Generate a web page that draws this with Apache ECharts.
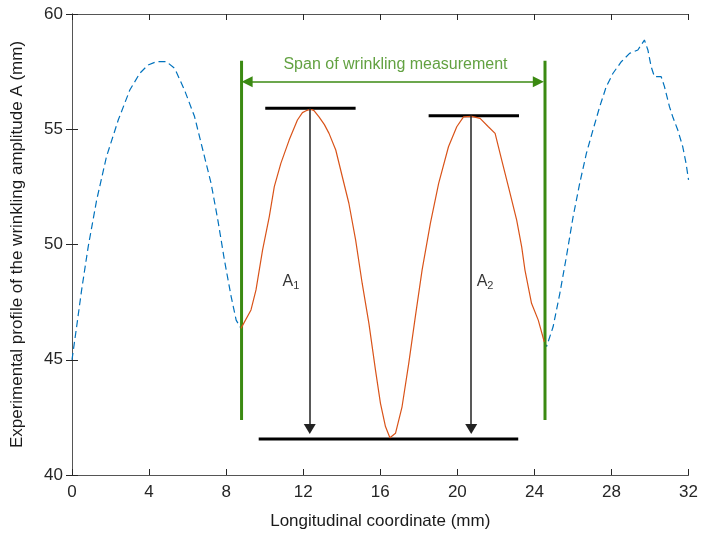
<!DOCTYPE html>
<html>
<head>
<meta charset="utf-8">
<script src="https://cdn.jsdelivr.net/npm/echarts@6/dist/echarts.min.js"></script>
<style>html,body{margin:0;padding:0;background:#fff;}#c{width:701px;height:535px;}</style>
</head>
<body>
<div id="c"></div>
<script>
// ---- data ----
const xTicks = [0, 4, 8, 12, 16, 20, 24, 28, 32];
const yTicks = [40, 45, 50, 55, 60];

const blueLeftX = [0.00, 0.24, 0.50, 0.84, 1.28, 1.79, 2.40, 3.00, 3.52, 3.95, 4.38, 4.90, 5.33, 5.84, 6.36, 6.79, 7.22, 7.57, 7.91, 8.26, 8.52, 8.77];
const blueLeftY = [45.0, 46.43, 48.03, 49.90, 51.93, 53.81, 55.40, 56.70, 57.43, 57.79, 57.93, 57.93, 57.64, 56.70, 55.55, 54.10, 52.65, 51.06, 49.33, 47.74, 46.72, 46.36];

const orangeX = [8.77, 9.29, 9.55, 9.89, 10.24, 10.50, 10.84, 11.27, 11.70, 11.96, 12.15, 12.31, 12.45, 12.56, 12.82, 13.10, 13.34, 13.69, 14.03, 14.37, 14.72, 15.06, 15.41, 15.75, 16.01, 16.27, 16.50, 16.79, 17.13, 17.48, 17.82, 18.17, 18.60, 19.03, 19.54, 19.97, 20.32, 20.75, 21.18, 21.61, 21.96, 22.30, 22.65, 23.08, 23.34, 23.51, 23.85, 24.20, 24.51];
const orangeY = [46.36, 47.16, 48.03, 49.76, 51.21, 52.51, 53.52, 54.53, 55.40, 55.72, 55.80, 55.85, 55.85, 55.81, 55.54, 55.20, 54.82, 54.10, 52.94, 51.79, 50.20, 48.32, 46.58, 44.56, 43.11, 42.10, 41.62, 41.81, 42.96, 44.85, 46.87, 48.89, 50.92, 52.65, 54.24, 55.11, 55.54, 55.56, 55.47, 55.11, 54.82, 53.67, 52.51, 51.06, 49.90, 48.89, 47.45, 46.72, 45.78];

const blueRightX = [24.51, 24.63, 24.97, 25.32, 25.66, 26.01, 26.35, 26.70, 27.04, 27.39, 27.73, 28.08, 28.51, 28.94, 29.37, 29.71, 29.89, 30.06, 30.23, 30.58, 30.75, 31.01, 31.18, 31.44, 31.70, 31.87, 32.00];
const blueRightY = [45.78, 45.57, 46.43, 47.88, 49.47, 51.21, 52.65, 53.96, 54.97, 55.98, 56.85, 57.43, 57.93, 58.29, 58.44, 58.87, 58.44, 57.71, 57.28, 57.28, 56.85, 55.98, 55.54, 54.97, 54.24, 53.52, 52.80];

// annotation geometry (data coordinates)
const spanBarsX = [8.80, 24.55];
const spanBarsY = [42.39, 57.97];
const spanArrowX = [8.83, 24.46];
const spanArrowY = 57.06;
const spanText = 'Span of wrinkling measurement';
const spanTextPos = [16.79, 57.80];

const peakLinesX = [[10.03, 14.72], [18.51, 23.20]];
const peakLevels = [55.91, 55.59];
const troughLineX = [9.69, 23.16];
const troughLevel = 41.56;

const ampArrowX = [12.34, 20.72];
const ampArrowTipY = 41.78;
const ampLabels = ['A{s|1}', 'A{s|2}'];
const ampLabelPos = [[11.36, 48.39], [21.44, 48.39]];

// ---- build ----
const zip = (xs, ys) => xs.map((x, i) => [x, ys[i]]);
const GREEN = '#3b8a12';
const FONT = 'Liberation Sans, Arial, Helvetica, sans-serif';

const segSeries = (pts, color, width) => ({
  type: 'line', data: pts, symbol: 'none', silent: true, animation: false,
  lineStyle: { color: color, width: width }, z: 3
});

const series = [
  { type: 'line', data: zip(blueLeftX, blueLeftY), symbol: 'none', silent: true, animation: false,
    lineStyle: { color: '#0072BD', width: 1.2, type: [7, 4] }, z: 2 },
  { type: 'line', data: zip(blueRightX, blueRightY), symbol: 'none', silent: true, animation: false,
    lineStyle: { color: '#0072BD', width: 1.2, type: [7, 4] }, z: 2 },
  { type: 'line', data: zip(orangeX, orangeY), symbol: 'none', silent: true, animation: false,
    lineStyle: { color: '#D95319', width: 1.2 }, z: 4 },
];
spanBarsX.forEach(x => series.push(segSeries([[x, spanBarsY[0]], [x, spanBarsY[1]]], GREEN, 3)));
peakLinesX.forEach((xs, i) => series.push(segSeries([[xs[0], peakLevels[i]], [xs[1], peakLevels[i]]], '#000', 3)));
series.push(segSeries([[troughLineX[0], troughLevel], [troughLineX[1], troughLevel]], '#000', 3));

// arrows (markLine with triangle heads)
const headLenX = 5 / 19.34, headLenY = 5 / 23.05;
series.push({
  type: 'line', data: [], silent: true, animation: false, z: 5,
  markLine: {
    silent: true, animation: false, label: { show: false },
    symbol: ['triangle', 'triangle'], symbolSize: [11, 11],
    lineStyle: { color: GREEN, width: 1.5, type: 'solid' },
    emphasis: { disabled: true },
    data: [[{ coord: [spanArrowX[0] + headLenX, spanArrowY] }, { coord: [spanArrowX[1] - headLenX, spanArrowY] }]]
  }
});
series.push({
  type: 'line', data: [], silent: true, animation: false, z: 5,
  markLine: {
    silent: true, animation: false, label: { show: false },
    symbol: ['none', 'triangle'], symbolSize: [12, 10],
    lineStyle: { color: '#222', width: 1.5, type: 'solid' },
    emphasis: { disabled: true },
    data: ampArrowX.map((x, i) => [{ coord: [x, peakLevels[i]] }, { coord: [x, ampArrowTipY + headLenY] }])
  }
});

// text labels
series.push({
  type: 'scatter', symbolSize: 0, silent: true, animation: false, z: 6,
  data: [spanTextPos],
  label: { show: true, position: 'inside', formatter: spanText, color: GREEN, fontSize: 16, fontFamily: FONT }
});
series.push({
  type: 'scatter', symbolSize: 0, silent: true, animation: false, z: 6,
  data: ampLabelPos.map((p, i) => ({ value: p, name: ampLabels[i] })),
  label: {
    show: true, position: 'inside', formatter: p => p.name,
    color: '#000', fontSize: 16, fontFamily: FONT,
    rich: { s: { fontSize: 11, fontFamily: FONT, color: '#000', padding: [9, 0, 0, 0] } }
  }
});

const axisCommon = {
  axisLine: { show: true, lineStyle: { color: '#555', width: 1 } },
  axisTick: { show: true, inside: true, length: 6, lineStyle: { color: '#262626' } },
  splitLine: { show: false }
};

const option = {
  backgroundColor: '#fff',
  animation: false,
  grid: { left: 72, right: 10, top: 14, bottom: 60, containLabel: false },
  xAxis: [
    Object.assign({
      type: 'value', min: xTicks[0], max: xTicks[xTicks.length - 1], interval: xTicks[1] - xTicks[0],
      name: 'Longitudinal coordinate (mm)', nameLocation: 'middle', nameGap: 38,
      nameTextStyle: { fontSize: 17, color: '#1a1a1a', fontFamily: FONT },
      axisLabel: { fontSize: 17, color: '#262626', fontFamily: FONT, margin: 9 }
    }, axisCommon),
    Object.assign({
      type: 'value', position: 'top', min: xTicks[0], max: xTicks[xTicks.length - 1], interval: xTicks[1] - xTicks[0],
      axisLabel: { show: false }
    }, axisCommon)
  ],
  yAxis: [
    Object.assign({
      type: 'value', min: yTicks[0], max: yTicks[yTicks.length - 1], interval: yTicks[1] - yTicks[0],
      name: 'Experimental profile of the wrinkling amplitude A (mm)', nameLocation: 'middle', nameGap: 46,
      nameTextStyle: { fontSize: 17, color: '#1a1a1a', fontFamily: FONT },
      axisLabel: { fontSize: 17, color: '#262626', fontFamily: FONT, margin: 9 }
    }, axisCommon),
    Object.assign({
      type: 'value', position: 'right', min: yTicks[0], max: yTicks[yTicks.length - 1], interval: yTicks[1] - yTicks[0],
      axisLabel: { show: false }
    }, axisCommon)
  ],
  series: series
};

const chart = echarts.init(document.getElementById('c'), null, { renderer: 'canvas' });
chart.setOption(option);
</script>
</body>
</html>
